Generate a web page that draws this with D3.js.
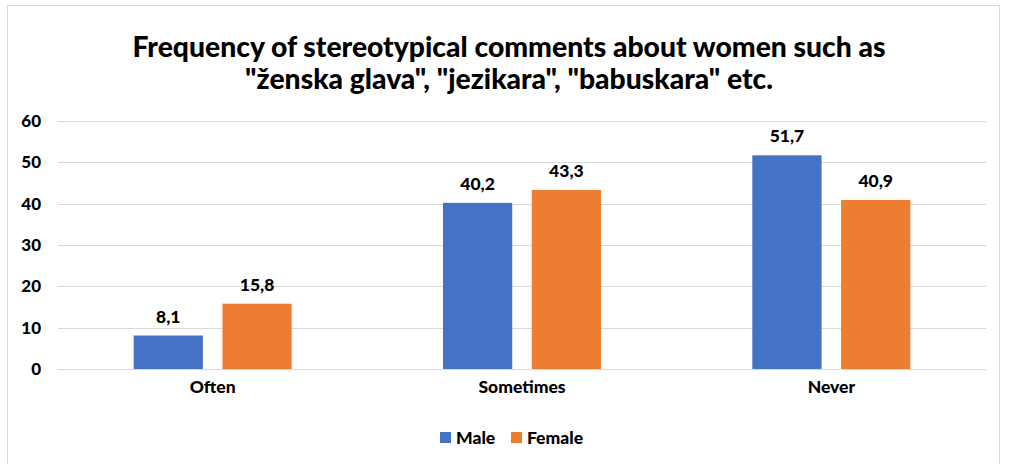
<!DOCTYPE html>
<html><head><meta charset="utf-8">
<script src="https://cdn.jsdelivr.net/npm/d3@7"></script>
<style>body{margin:0;background:#fff}svg{display:block}text{font-family:Lato,"Open Sans",sans-serif;font-weight:900;fill:#000}</style>
</head><body>
<script>
const categories = ["Often","Sometimes","Never"];
const seriesNames = ["Male","Female"];
const male = [8.1,40.2,51.7];
const female = [15.8,43.3,40.9];
const yTicks = [0,10,20,30,40,50,60];
const colors = ["#4472C4","#ED7D31"];
const titleLines = ["Frequency of stereotypical comments about women such as", "\"ženska glava\", \"jezikara\", \"babuskara\" etc."];

const W=1009,H=464;
const svg=d3.select("body").append("svg").attr("width",W).attr("height",H);
svg.append("rect").attr("x",7.5).attr("y",5.5).attr("width",992).attr("height",470).attr("fill","#fff").attr("stroke","#d9d9d9");

const x0=d3.scaleBand().domain(categories).range([58,986]);
const y=d3.scaleLinear().domain([0,60]).range([369,121]);
const x1=d3.scaleBand().domain(seriesNames).range([0,158]).paddingInner(0.22);

svg.append("g").selectAll("line").data(yTicks).join("line")
 .attr("x1",58).attr("x2",986).attr("y1",d=>Math.round(y(d))+0.5).attr("y2",d=>Math.round(y(d))+0.5)
 .attr("stroke","#d9d9d9").attr("stroke-width",1);

const ya=svg.append("g").attr("transform","translate(41,0)").call(d3.axisLeft(y).tickValues(yTicks).tickSize(0).tickPadding(0));
ya.select(".domain").remove();
ya.selectAll("text").style("font-size","17px").style("font-family","Lato,sans-serif").style("font-weight","900").attr("fill","#000");

const xa=svg.append("g").attr("transform","translate(0,369)").call(d3.axisBottom(x0).tickSize(0).tickPadding(12));
xa.select(".domain").remove();
xa.selectAll("text").style("font-size","17.5px").style("font-family","Lato,sans-serif").style("font-weight","900").attr("fill","#000");

const data=categories.map((c,i)=>({c,vals:[{s:"Male",v:male[i]},{s:"Female",v:female[i]}]}));
const g=svg.append("g").selectAll("g").data(data).join("g")
 .attr("transform",d=>`translate(${x0(d.c)+x0.bandwidth()/2-79},0)`);
g.selectAll("rect").data(d=>d.vals).join("rect")
 .attr("x",d=>x1(d.s)).attr("width",x1.bandwidth())
 .attr("y",d=>y(d.v)).attr("height",d=>y(0)-y(d.v))
 .attr("fill",(d,i)=>colors[i]);
g.selectAll("text").data(d=>d.vals).join("text")
 .attr("x",d=>x1(d.s)+x1.bandwidth()/2).attr("y",d=>y(d.v)-13)
 .attr("text-anchor","middle").style("font-size","17.5px")
 .text(d=>d.v.toFixed(1).replace(".",","));

const tb=[57,89];
const tt=titleLines.map((t,i)=>svg.append("text").attr("x",509).attr("y",tb[i]).attr("text-anchor","middle").style("font-size","24px").text(t));
const w0=tt[0].node().getComputedTextLength();
const fs=24*753/w0;
tt.forEach(t=>t.style("font-size",fs.toFixed(1)+"px"));

const lg=svg.append("g");
const lx=[440,511];
seriesNames.forEach((s,i)=>{
  lg.append("rect").attr("x",lx[i]).attr("y",432).attr("width",11).attr("height",11).attr("fill",colors[i]);
  lg.append("text").attr("x",lx[i]+16).attr("y",443.5).style("font-size","17.5px").text(s);
});
</script>
</body></html>
